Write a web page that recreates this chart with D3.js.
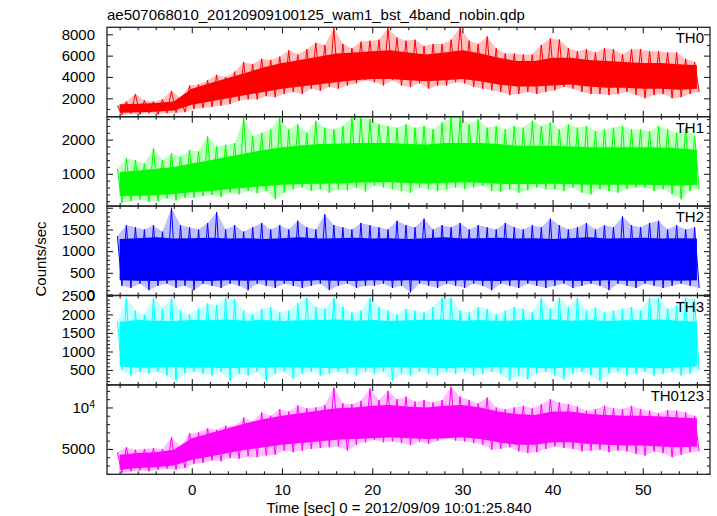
<!DOCTYPE html>
<html><head><meta charset="utf-8">
<script src="https://cdn.jsdelivr.net/npm/d3@7"></script>
<style>
html,body{margin:0;padding:0;background:#fff;}
text{font-family:"Liberation Sans",Arial,Helvetica,sans-serif;}
</style></head>
<body><svg id="c" width="717" height="516"></svg>
<script>
// ---------- data ----------
const title = "ae507068010_20120909100125_wam1_bst_4band_nobin.qdp";
const xLabel = "Time [sec] 0 = 2012/09/09 10:01:25.840";
const yLabel = "Counts/sec";
const panelNames = ["TH0", "TH1", "TH2", "TH3", "TH0123"];
const panelColors = ["#ff0000", "#00ff00", "#0000ff", "#00ffff", "#ff00ff"];

// envelope times (1 s) and core band times (2 s)
const tEnv = d3.range(-8, 57, 1);
const tCore = d3.range(-8, 57, 2);

// TH0
const th0Hi = [1300,1700,2400,1800,1700,1900,2700,2000,
  3200,3300,3700,4200,4000,4500,5400,5200,5700,5600,
  5900,6500,6100,6600,7200,7000,8600,7100,6700,7300,
  7400,7500,8600,7700,7400,7500,6900,7100,7100,7500,
  8700,7400,7100,7800,6700,6200,6200,6100,6100,7000,
  7600,7500,6700,6400,6600,6300,6700,6600,6100,6600,
  6600,6400,6400,6300,6300,5700,5400];
const th0Lo = [450,550,500,600,500,600,650,700,
  1000,1100,1200,1300,1450,1750,1900,1900,2200,2100,
  2400,2600,2400,2900,2700,3050,2900,3200,3400,3700,
  3500,3200,3700,3200,3050,3400,2900,3200,3200,3500,
  3400,3050,2900,2750,2600,2300,2400,2600,2400,2600,
  2750,3050,2900,2600,2400,2400,2300,2400,2600,2300,
  2000,2300,2400,2000,2100,2400,2600];
const th0CoreHi = [1450,1500,1550,1700,2900,3400,3900,4400,4900,5300,5600,5900,6200,6300,6400,6500,6300,6100,6300,6500,6200,5800,5500,5500,5800,5800,5600,5500,5400,5300,5300,5200,5100];
const th0CoreLo = [650,700,750,850,1400,1700,2000,2300,2600,2900,3100,3300,3500,3700,3800,3800,3700,3600,3700,3800,3600,3300,3100,3100,3200,3300,3100,3000,3000,2900,2900,2800,2900];

// TH1
const th1Hi = [1150,1450,1400,1300,1750,1400,1600,1500,
  1700,1650,2100,1800,1850,1900,2650,2100,2200,2300,
  2650,2300,2450,2200,2550,2350,2300,2400,2650,2650,
  2600,2450,2400,2350,2450,2350,2400,2300,2500,2650,
  2650,2450,2600,2350,2400,2300,2400,2350,2550,2400,
  2500,2300,2450,2350,2400,2250,2300,2350,2400,2300,
  2300,2250,2400,2300,2200,2350,2100];
const th1Lo = [150,200,250,180,200,280,220,300,
  300,350,380,320,450,400,500,430,500,260,
  450,550,600,500,550,450,550,520,600,480,
  650,600,550,500,450,600,550,500,550,600,
  550,600,650,500,480,550,450,520,600,550,
  550,500,600,450,400,550,500,450,550,600,
  600,500,550,400,250,500,550];
const th1CoreHi = [1050,1100,1150,1200,1300,1400,1500,1600,1700,1780,1830,1870,1880,1900,1900,1900,1870,1860,1900,1900,1900,1870,1820,1820,1820,1800,1780,1780,1780,1780,1770,1750,1700];
const th1CoreLo = [350,360,380,410,460,500,550,600,640,680,700,710,720,740,750,750,730,720,740,750,740,710,700,700,710,700,680,680,680,680,670,660,680];

// TH2
const th2Hi = [1350,1600,1550,1500,1600,1450,2000,1600,
  1550,1500,1650,1900,1500,1600,1450,1550,1650,1500,
  1600,1500,1700,1550,1500,1850,1600,1550,1500,1650,
  1600,1550,1500,1700,1600,1550,1750,1500,1600,1550,
  1650,1500,1600,1550,1500,1650,1550,1500,1600,1550,
  1750,1600,1500,1550,1650,1500,1600,1550,1800,1600,
  1550,1650,1700,1500,1600,1500,1550];
const th2Lo = [200,150,250,100,200,250,150,200,
  100,250,200,150,250,200,100,250,200,150,
  250,200,150,200,250,100,200,250,150,200,
  200,250,150,200,50,250,200,150,250,200,
  150,250,200,100,250,200,150,250,200,150,
  200,250,150,200,250,200,100,250,200,150,
  250,200,150,200,250,200,150];
const th2CoreHi = [1280,1300,1320,1290,1300,1310,1290,1300,1280,1300,1320,1290,1300,1310,1290,1300,1280,1300,1320,1290,1300,1310,1290,1300,1280,1300,1320,1290,1300,1310,1290,1300,1290];
const th2CoreLo = [330,320,310,330,320,310,330,320,330,320,310,330,320,310,330,320,330,320,310,330,320,310,330,320,330,320,310,330,320,310,330,320,330];

// TH3
const th3Hi = [1800,2450,2100,2000,2450,2150,2450,2100,
  2000,2150,2300,2250,2450,2400,2100,2000,2150,2200,
  2050,2100,2300,2450,2200,2150,2450,2200,2050,2100,
  2450,2200,2100,2000,2150,2100,2050,2200,2450,2450,
  2100,2050,2200,2150,2000,2100,2200,2150,2050,2450,
  2150,2450,2200,2450,2100,2200,2050,2100,2150,2200,
  2100,2450,2450,2150,2250,2450,2400];
const th3Lo = [500,350,450,400,450,350,200,400,
  450,400,350,450,200,400,350,450,200,400,
  450,250,400,450,350,400,450,400,350,450,
  400,450,200,400,350,450,400,350,450,400,
  450,350,400,450,400,200,350,250,400,450,
  350,250,400,450,350,200,400,450,350,400,
  450,350,400,450,350,400,500];
const th3CoreHi = [1800,1850,1830,1820,1850,1840,1860,1830,1850,1820,1840,1850,1860,1830,1850,1820,1840,1850,1860,1830,1850,1820,1840,1850,1860,1830,1850,1820,1840,1850,1860,1830,1800];
const th3CoreLo = [600,560,570,580,560,570,550,570,560,580,570,560,550,570,560,580,570,560,550,570,560,580,570,560,550,570,560,580,570,560,550,570,600];

// TH0123
const th4Hi = [4600,5200,4900,5000,5100,5000,6400,5300,
  6900,7000,7500,7300,7800,7700,8800,8300,9400,9000,
  9800,9500,10250,9900,10000,10300,12400,10500,10400,10800,
  12300,10900,12000,11000,11300,10700,10900,10600,10900,12500,
  11300,10900,10500,11200,10000,9800,10000,10200,9900,10400,
  11000,10600,10400,10100,9600,9800,10200,9900,9800,10200,
  9800,9600,9300,9700,9600,9400,9000];
const th4Lo = [2100,2300,2400,2300,2500,2600,2500,2700,
  3200,3300,3600,3500,3900,3800,4100,4000,4200,4300,
  4800,4600,4800,5000,5100,5200,5300,4800,5500,5800,
  6100,5800,5900,5700,5500,5900,5600,6000,6300,6000,
  5900,5700,5500,4900,5000,5200,4700,4500,4600,5000,
  5300,5100,5000,4700,4800,4900,4600,4800,4700,4400,
  4200,4700,4500,4000,4300,4600,4700];
const th4CoreHi = [4300,4500,4600,4900,6300,6900,7500,8100,8600,9000,9300,9600,9900,10000,10200,10300,10100,10000,10200,10300,10000,9500,9200,9100,9500,9500,9200,9100,9000,9000,8900,8800,8700];
const th4CoreLo = [2500,2700,2800,3000,3700,4100,4500,4900,5200,5500,5700,5900,6100,6200,6300,6400,6300,6200,6300,6400,6200,5800,5500,5500,5800,5800,5600,5500,5400,5400,5300,5200,5300];

// axis domains / ticks
const xDomain = [-9.4, 57.45];
const xMajor = [0, 10, 20, 30, 40, 50];
const yDomains = [[275, 8656], [56, 2671], [-23, 2039], [98, 2510], [1940, 12720]];
const yMajor = [[2000, 4000, 6000, 8000], [1000, 2000], [0, 500, 1000, 1500, 2000], [500, 1000, 1500, 2000, 2500], [5000, 10000]];
const yMinorStep = [1000, 200, 100, 100, 1000];

const hiSeries = [th0Hi, th1Hi, th2Hi, th3Hi, th4Hi];
const loSeries = [th0Lo, th1Lo, th2Lo, th3Lo, th4Lo];
const coreHiSeries = [th0CoreHi, th1CoreHi, th2CoreHi, th3CoreHi, th4CoreHi];
const coreLoSeries = [th0CoreLo, th1CoreLo, th2CoreLo, th3CoreLo, th4CoreLo];

// ---------- layout ----------
const svg = d3.select("#c");
const L = 107, R = 710, T = 27.3, B = 474.3;
const ph = (B - T) / 5;
const x = d3.scaleLinear().domain(xDomain).range([L, R]);
const FS = 15;
const axisColor = "#222";

svg.append("text").attr("x", 107).attr("y", 20).attr("font-size", FS).text(title);

const xMinor = d3.range(-8, 58, 2).filter(v => !xMajor.includes(v));

panelNames.forEach((name, i) => {
  const top = T + i * ph, bot = top + ph;
  const y = d3.scaleLinear().domain(yDomains[i]).range([bot, top]);
  const g = svg.append("g");
  const cid = "clip" + i;
  svg.append("clipPath").attr("id", cid).append("rect")
    .attr("x", L).attr("y", top).attr("width", R - L).attr("height", ph);
  const dg = g.append("g").attr("clip-path", `url(#${cid})`);
  const col = panelColors[i];

  const env = tEnv.map((t, k) => [t, loSeries[i][k], hiSeries[i][k]]);

  // light fringe between the extreme readings
  dg.append("path")
    .attr("d", d3.area()
      .x0(d => x(d[0] + 0.25)).x1(d => x(d[0] - 0.25))
      .y0(d => y(d[1])).y1(d => y(d[2]))(env))
    .attr("fill", col).attr("fill-opacity", 0.25);

  // spiky envelope: zig-zag between high and low readings
  const pts = [];
  env.forEach(d => {
    pts.push([d[0] - 0.25, d[2]]);
    pts.push([d[0] + 0.25, d[1]]);
  });
  dg.append("path")
    .attr("d", d3.line().x(d => x(d[0])).y(d => y(d[1]))(pts))
    .attr("fill", "none").attr("stroke", col).attr("stroke-width", 1);

  // dense core band
  const core = tCore.map((t, k) => [t, coreLoSeries[i][k], coreHiSeries[i][k]]);
  dg.append("path")
    .attr("d", d3.area().x(d => x(d[0])).y0(d => y(d[1])).y1(d => y(d[2]))(core))
    .attr("fill", col);

  // y axes
  const yMin = d3.range(Math.ceil(yDomains[i][0] / yMinorStep[i]) * yMinorStep[i], yDomains[i][1], yMinorStep[i])
    .filter(v => !yMajor[i].includes(v));
  const fmt = v => v === 10000 ? "" : String(v);
  const ax = g.append("g").attr("transform", `translate(${L},0)`)
    .call(d3.axisLeft(y).tickValues(yMajor[i]).tickSize(-6).tickPadding(12).tickFormat(fmt));
  ax.select(".domain").remove();
  ax.selectAll("text").attr("font-size", FS).attr("font-family", null).attr("fill", "#000");
  ax.selectAll("text").filter(d => d === 10000).each(function () {
    const t = d3.select(this);
    t.append("tspan").text("10");
    t.append("tspan").attr("dy", "-0.45em").attr("font-size", FS * 0.7).text("4");
  });
  const axm = g.append("g").attr("transform", `translate(${L},0)`)
    .call(d3.axisLeft(y).tickValues(yMin).tickSize(-3).tickFormat(""));
  axm.select(".domain").remove();
  const ar = g.append("g").attr("transform", `translate(${R},0)`)
    .call(d3.axisRight(y).tickValues(yMajor[i]).tickSize(-6).tickFormat(""));
  ar.select(".domain").remove();
  const arm = g.append("g").attr("transform", `translate(${R},0)`)
    .call(d3.axisRight(y).tickValues(yMin).tickSize(-3).tickFormat(""));
  arm.select(".domain").remove();

  // top / bottom ticks (inward)
  [[top, 1], [bot, -1]].forEach(([yy, dir]) => {
    const mk = (vals, len) => {
      const a = g.append("g").attr("transform", `translate(0,${yy})`)
        .call(d3.axisBottom(x).tickValues(vals).tickSize(len * dir).tickFormat(""));
      a.select(".domain").remove();
    };
    mk(xMajor, 6); mk(xMinor, 3);
  });

  // frame
  g.append("rect").attr("x", L).attr("y", top).attr("width", R - L).attr("height", ph)
    .attr("fill", "none").attr("stroke", axisColor).attr("stroke-width", 1.3);

  g.selectAll(".tick line").attr("stroke", axisColor).attr("stroke-width", 1.1);

  // panel name
  g.append("text").attr("x", 704).attr("y", top + 16).attr("text-anchor", "end")
    .attr("font-size", FS).text(name);
});

// bottom x tick labels
const bx = svg.append("g").attr("transform", `translate(0,${B})`)
  .call(d3.axisBottom(x).tickValues(xMajor).tickSize(0).tickPadding(10));
bx.select(".domain").remove();
bx.selectAll("text").attr("font-size", FS).attr("font-family", null).attr("fill", "#000");

svg.append("text").attr("x", 399).attr("y", 513).attr("text-anchor", "middle")
  .attr("font-size", FS).text(xLabel);
svg.append("text").attr("transform", "translate(46,259) rotate(-90)")
  .attr("text-anchor", "middle").attr("font-size", FS).text(yLabel);
</script></body></html>
